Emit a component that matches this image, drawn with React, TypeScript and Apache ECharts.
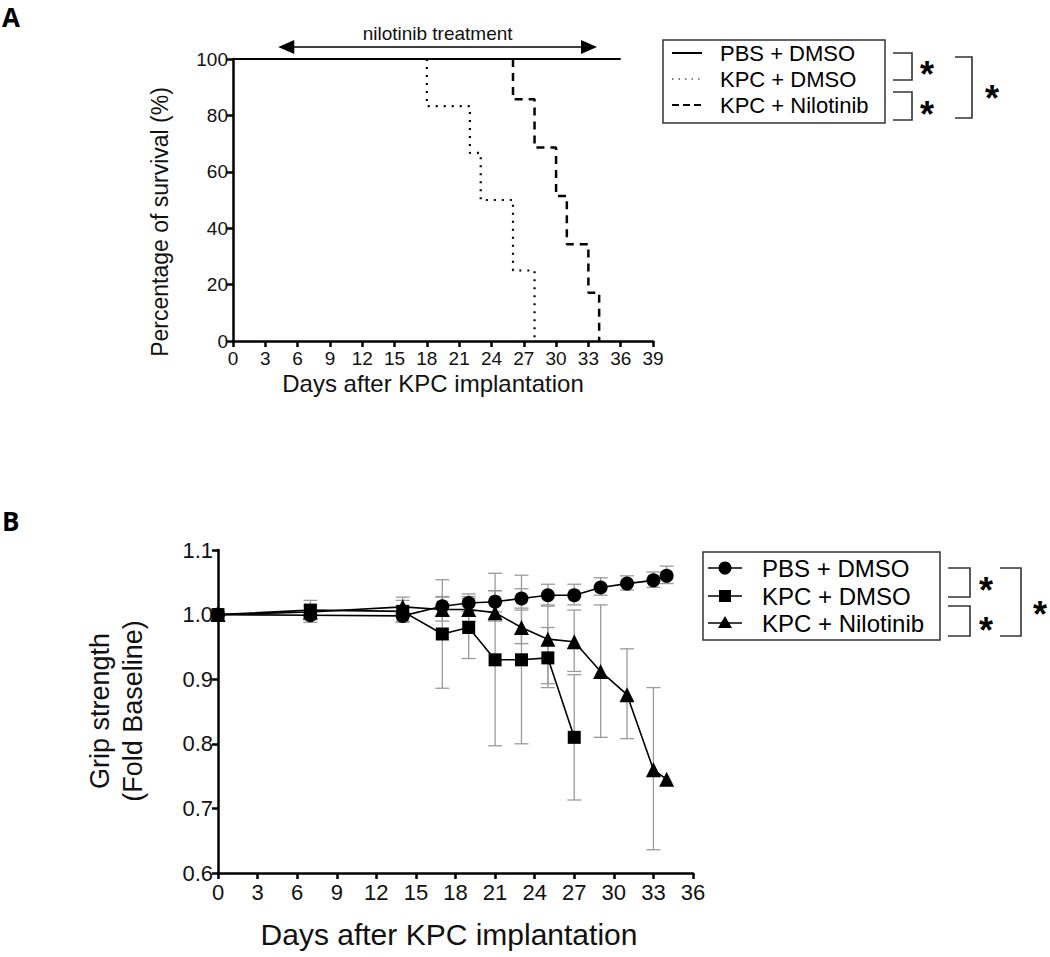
import React, { useEffect, useRef } from "react";
import * as echarts from "echarts";

// ---------- Panel A: Kaplan–Meier survival ----------
const survivalTicksMax = 39;
const pbsSurvDays = [0, 36];
const pbsSurv = [100, 100];
const kpcSurvDays = [18, 18, 22, 23, 26, 28];
const kpcSurv = [100, 83.3, 66.7, 50, 25, 0];
const niloSurvDays = [26, 26, 28, 30, 31, 33, 34];
const niloSurv = [100, 85.7, 68.6, 51.4, 34.3, 17.1, 0];
const treatmentStartDay = 4.2;
const treatmentEndDay = 33.8;

// ---------- Panel B: grip strength ----------
const pbsGripDays = [0, 7, 14, 17, 19, 21, 23, 25, 27, 29, 31, 33, 34];
const pbsGrip = [1.0, 0.999, 0.998, 1.013, 1.018, 1.02, 1.025, 1.03, 1.03, 1.042, 1.048, 1.053, 1.06];
const pbsGripLow = [null, 0.988, 0.988, 0.998, 1.005, 1.004, 1.01, 1.013, 1.015, 1.03, 1.038, 1.042, 1.048];
const pbsGripHigh = [null, 1.012, 1.01, 1.028, 1.032, 1.037, 1.04, 1.047, 1.047, 1.057, 1.06, 1.066, 1.075];

const kpcGripDays = [0, 7, 14, 17, 19, 21, 23, 25, 27];
const kpcGrip = [1.0, 1.007, 1.005, 0.97, 0.98, 0.93, 0.93, 0.933, 0.81];
const kpcGripLow = [null, 0.992, 0.99, 0.886, 0.932, 0.797, 0.8, 0.887, 0.713];
const kpcGripHigh = [null, 1.022, 1.022, 1.054, 1.028, 1.064, 1.061, 0.98, 0.907];

const niloGripDays = [0, 7, 14, 17, 19, 21, 23, 25, 27, 29, 31, 33, 34];
const niloGrip = [1.0, 1.004, 1.012, 1.008, 1.008, 1.003, 0.98, 0.962, 0.958, 0.912, 0.876, 0.76, 0.745];
const niloGripLow = [null, 0.995, 0.998, 0.99, 0.99, 0.99, 0.955, 0.893, 0.912, 0.81, 0.808, 0.636, null];
const niloGripHigh = [null, 1.015, 1.027, 1.027, 1.025, 1.037, 1.007, 1.015, 1.007, 1.015, 0.947, 0.887, null];

const groupNames = ["PBS + DMSO", "KPC + DMSO", "KPC + Nilotinib"];

const FONT = "'Liberation Sans', Arial, Helvetica, sans-serif";

// layout
const gA = { left: 233, top: 59, width: 420, height: 282 };
const gB = { left: 218, top: 550, width: 475, height: 323 };

function zip(xs: number[], ys: (number | null)[]) {
  return xs.map((x, i) => [x, ys[i]]);
}
function errData(xs: number[], lo: (number | null)[], hi: (number | null)[]) {
  const out: any[] = [];
  xs.forEach((x, i) => {
    if (lo[i] != null && hi[i] != null) out.push([x, lo[i], hi[i]]);
  });
  return out;
}

export default function App() {
  const ref = useRef<HTMLDivElement>(null);
  useEffect(() => {
    if (!ref.current) return;
    const chart = echarts.init(ref.current, undefined, { renderer: "svg" });

    const axisCommon = {
      axisLine: { show: true, lineStyle: { color: "#000", width: 2.5 } },
      axisTick: { show: true, length: 6, lineStyle: { color: "#000", width: 2.5 } },
      splitLine: { show: false },
    };
    const pxDayA = gA.width / survivalTicksMax;

    const errRender = (params: any, api: any) => {
      const x = api.value(0);
      const p1 = api.coord([x, api.value(1)]);
      const p2 = api.coord([x, api.value(2)]);
      const cw = 7;
      const st = { stroke: "#9a9a9a", lineWidth: 1.3 };
      return {
        type: "group",
        children: [
          { type: "line", shape: { x1: p1[0], y1: p1[1], x2: p2[0], y2: p2[1] }, style: st },
          { type: "line", shape: { x1: p1[0] - cw, y1: p1[1], x2: p1[0] + cw, y2: p1[1] }, style: st },
          { type: "line", shape: { x1: p2[0] - cw, y1: p2[1], x2: p2[0] + cw, y2: p2[1] }, style: st },
        ],
      };
    };

    const bracket = (x1: number, x2: number, y1: number, y2: number) => ({
      type: "polyline",
      shape: { points: [[x1, y1], [x2, y1], [x2, y2], [x1, y2]] },
      style: { stroke: "#333", lineWidth: 1.6, fill: "none" },
    });
    const star = (x: number, y: number) => ({
      type: "text",
      x,
      y,
      style: { text: "*", font: `bold 36px ${FONT}`, fill: "#000", align: "center", verticalAlign: "middle" },
    });
    const txt = (x: number, y: number, text: string, size: number, extra: any = {}) => ({
      type: "text",
      x,
      y,
      style: { text, font: `${size}px ${FONT}`, fill: "#000", align: "left", verticalAlign: "middle", ...extra },
    });

    const arrowY = 47;
    const axL = gA.left + treatmentStartDay * pxDayA;
    const axR = gA.left + treatmentEndDay * pxDayA;

    const option: any = {
      animation: false,
      textStyle: { fontFamily: FONT },
      grid: [
        { ...gA, containLabel: false },
        { ...gB, containLabel: false },
      ],
      xAxis: [
        {
          gridIndex: 0,
          type: "value",
          min: 0,
          max: survivalTicksMax,
          interval: 3,
          ...axisCommon,
          axisLabel: { fontSize: 19, color: "#111", margin: 8, fontFamily: FONT },
        },
        {
          gridIndex: 1,
          type: "value",
          min: 0,
          max: 36,
          interval: 3,
          ...axisCommon,
          axisLabel: { fontSize: 22, color: "#111", margin: 8, fontFamily: FONT },
        },
      ],
      yAxis: [
        {
          gridIndex: 0,
          type: "value",
          min: 0,
          max: 100,
          interval: 20,
          ...axisCommon,
          axisLabel: { fontSize: 19, color: "#111", margin: 5, fontFamily: FONT },
        },
        {
          gridIndex: 1,
          type: "value",
          min: 0.6,
          max: 1.1,
          interval: 0.1,
          ...axisCommon,
          axisLabel: {
            fontSize: 22,
            color: "#111",
            margin: 5,
            fontFamily: FONT,
            formatter: (v: number) => v.toFixed(1),
          },
        },
      ],
      series: [
        {
          name: groupNames[0],
          type: "line",
          xAxisIndex: 0,
          yAxisIndex: 0,
          data: zip(pbsSurvDays, pbsSurv),
          step: "end",
          symbol: "none",
          lineStyle: { color: "#000", width: 2 },
          z: 3,
        },
        {
          name: groupNames[1],
          type: "line",
          xAxisIndex: 0,
          yAxisIndex: 0,
          data: zip(kpcSurvDays, kpcSurv),
          step: "end",
          symbol: "none",
          lineStyle: { color: "#000", width: 2.2, type: [2, 6] },
          z: 2,
        },
        {
          name: groupNames[2],
          type: "line",
          xAxisIndex: 0,
          yAxisIndex: 0,
          data: zip(niloSurvDays, niloSurv),
          step: "end",
          symbol: "none",
          lineStyle: { color: "#000", width: 2.5, type: [8, 6] },
          z: 2,
        },
        // error bars B
        {
          type: "custom",
          xAxisIndex: 1,
          yAxisIndex: 1,
          renderItem: errRender,
          data: errData(pbsGripDays, pbsGripLow, pbsGripHigh),
          z: 1,
        },
        {
          type: "custom",
          xAxisIndex: 1,
          yAxisIndex: 1,
          renderItem: errRender,
          data: errData(kpcGripDays, kpcGripLow, kpcGripHigh),
          z: 1,
        },
        {
          type: "custom",
          xAxisIndex: 1,
          yAxisIndex: 1,
          renderItem: errRender,
          data: errData(niloGripDays, niloGripLow, niloGripHigh),
          z: 1,
        },
        {
          name: groupNames[2],
          type: "line",
          xAxisIndex: 1,
          yAxisIndex: 1,
          data: zip(niloGripDays, niloGrip),
          symbol: "triangle",
          symbolSize: 15,
          itemStyle: { color: "#000" },
          lineStyle: { color: "#000", width: 1.6 },
          z: 3,
        },
        {
          name: groupNames[1],
          type: "line",
          xAxisIndex: 1,
          yAxisIndex: 1,
          data: zip(kpcGripDays, kpcGrip),
          symbol: "rect",
          symbolSize: 13,
          itemStyle: { color: "#000" },
          lineStyle: { color: "#000", width: 1.6 },
          z: 4,
        },
        {
          name: groupNames[0],
          type: "line",
          xAxisIndex: 1,
          yAxisIndex: 1,
          data: zip(pbsGripDays, pbsGrip),
          symbol: "circle",
          symbolSize: 14,
          itemStyle: { color: "#000" },
          lineStyle: { color: "#000", width: 1.6 },
          z: 5,
        },
      ],
      graphic: [
        // panel letters
        { type: "text", x: 2, y: 4, style: { text: "A", font: `bold 26px 'Open Sans', ${FONT}`, fill: "#000" } },
        { type: "text", x: 2, y: 508, style: { text: "B", font: `bold 26px 'Open Sans', ${FONT}`, fill: "#000" } },
        // axis titles A
        {
          type: "text",
          x: 433,
          y: 383,
          style: { text: "Days after KPC implantation", font: `24px ${FONT}`, fill: "#111", align: "center", verticalAlign: "middle" },
        },
        {
          type: "text",
          x: 160,
          y: 222,
          rotation: Math.PI / 2,
          style: { text: "Percentage of survival (%)", font: `23px ${FONT}`, fill: "#111", align: "center", verticalAlign: "middle" },
        },
        // axis titles B
        {
          type: "text",
          x: 449,
          y: 934,
          style: { text: "Days after KPC implantation", font: `30px ${FONT}`, fill: "#111", align: "center", verticalAlign: "middle" },
        },
        {
          type: "text",
          x: 116,
          y: 711,
          rotation: Math.PI / 2,
          style: {
            text: "Grip strength\n(Fold Baseline)",
            font: `27px ${FONT}`,
            fill: "#111",
            align: "center",
            verticalAlign: "middle",
            lineHeight: 33,
          },
        },
        // treatment arrow
        { type: "line", shape: { x1: axL + 10, y1: arrowY, x2: axR - 10, y2: arrowY }, style: { stroke: "#000", lineWidth: 1.5 } },
        { type: "polygon", shape: { points: [[axL, arrowY], [axL + 16, arrowY - 7], [axL + 16, arrowY + 7]] }, style: { fill: "#000" } },
        { type: "polygon", shape: { points: [[axR, arrowY], [axR - 16, arrowY - 7], [axR - 16, arrowY + 7]] }, style: { fill: "#000" } },
        {
          type: "text",
          x: (axL + axR) / 2,
          y: 33,
          style: { text: "nilotinib treatment", font: `19px ${FONT}`, fill: "#111", align: "center", verticalAlign: "middle" },
        },
        // legend A
        { type: "rect", shape: { x: 663, y: 40, width: 222, height: 83 }, style: { stroke: "#333", lineWidth: 1.5, fill: "#fff" } },
        { type: "line", shape: { x1: 672, y1: 53, x2: 702, y2: 53 }, style: { stroke: "#000", lineWidth: 2 } },
        { type: "line", shape: { x1: 672, y1: 79, x2: 702, y2: 79 }, style: { stroke: "#000", lineWidth: 1.2, lineDash: [1.5, 5] } },
        { type: "line", shape: { x1: 672, y1: 105, x2: 702, y2: 105 }, style: { stroke: "#000", lineWidth: 2.2, lineDash: [7, 4] } },
        txt(720, 53, groupNames[0], 22),
        txt(720, 79, groupNames[1], 22),
        txt(720, 105, groupNames[2], 22),
        bracket(893, 912, 53, 80),
        star(927, 74),
        bracket(893, 912, 92, 120),
        star(927, 114),
        bracket(955, 972, 57, 118),
        star(992, 98),
        // legend B
        { type: "rect", shape: { x: 703, y: 552, width: 237, height: 88 }, style: { stroke: "#333", lineWidth: 1.5, fill: "#fff" } },
        { type: "line", shape: { x1: 708, y1: 568, x2: 742, y2: 568 }, style: { stroke: "#000", lineWidth: 1.6 } },
        { type: "circle", shape: { cx: 725, cy: 568, r: 6.5 }, style: { fill: "#000" } },
        { type: "line", shape: { x1: 708, y1: 596, x2: 742, y2: 596 }, style: { stroke: "#000", lineWidth: 1.6 } },
        { type: "rect", shape: { x: 719, y: 590, width: 12, height: 12 }, style: { fill: "#000" } },
        { type: "line", shape: { x1: 708, y1: 623, x2: 742, y2: 623 }, style: { stroke: "#000", lineWidth: 1.6 } },
        { type: "polygon", shape: { points: [[725, 616], [732, 628], [718, 628]] }, style: { fill: "#000" } },
        txt(762, 568, groupNames[0], 24),
        txt(762, 596, groupNames[1], 24),
        txt(762, 623, groupNames[2], 24),
        bracket(948, 970, 568, 597),
        star(986, 590),
        bracket(948, 970, 606, 636),
        star(986, 630),
        bracket(1000, 1021, 568, 636),
        star(1040, 614),
      ],
    };
    chart.setOption(option);
    return () => chart.dispose();
  }, []);
  return (
    <div
      ref={ref}
      style={{ position: "absolute", left: 0, top: 0, width: 1050, height: 957, background: "#fff" }}
    />
  );
}
